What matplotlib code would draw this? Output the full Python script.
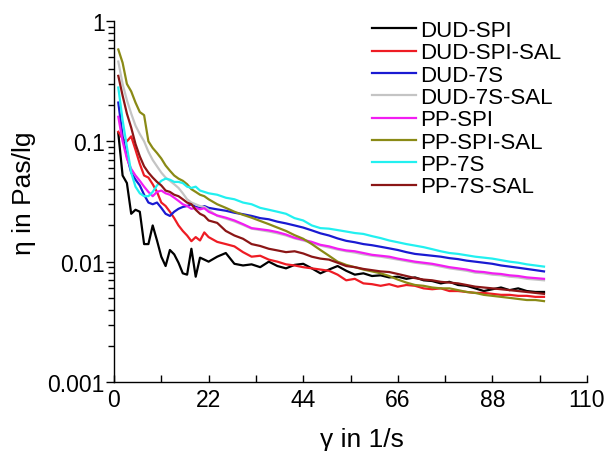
"""
Viscosity vs shear rate for DUD / PP samples
"""

import matplotlib
matplotlib.use("Agg")
import matplotlib.pyplot as plt
from matplotlib.ticker import LogLocator, NullFormatter, FixedLocator

plt.rcParams['font.family'] = ['Liberation Sans', 'DejaVu Sans']

# shear rate grid (1/s)
shear_rate = list(range(1, 23)) + list(range(24, 101, 2))

dud_spi = [0.117, 0.052, 0.045, 0.025, 0.027, 0.026, 0.014, 0.014, 0.020, 0.015,
           0.011, 0.0092, 0.0125, 0.0115, 0.0098, 0.0080, 0.0078, 0.0128, 0.0075, 0.0108,
           0.0104, 0.0100,
           0.0110, 0.0118, 0.0096, 0.0093, 0.0095, 0.0090, 0.0100, 0.0092, 0.0088, 0.0094,
           0.0096, 0.0088, 0.0080, 0.0086, 0.0092, 0.0084, 0.0078, 0.0080, 0.0076, 0.0077,
           0.0074, 0.0075, 0.0072, 0.0074, 0.0070, 0.0069, 0.0066, 0.0068, 0.0064, 0.0063,
           0.0060, 0.0057, 0.0059, 0.0061, 0.0058, 0.0060, 0.0057, 0.0056, 0.0056]

dud_spi_sal = [0.12, 0.105, 0.10, 0.11, 0.085, 0.065, 0.052, 0.050, 0.044, 0.038,
               0.031, 0.029, 0.026, 0.023, 0.020, 0.018, 0.0165, 0.0148, 0.0160, 0.0150,
               0.0175, 0.0160,
               0.0146, 0.0140, 0.0134, 0.0120, 0.0110, 0.0112, 0.0104, 0.0100, 0.0095, 0.0093,
               0.0090, 0.0088, 0.0086, 0.0084, 0.0078, 0.0070, 0.0072, 0.0066, 0.0065, 0.0063,
               0.0065, 0.0062, 0.0064, 0.0063, 0.0060, 0.0059, 0.0060, 0.0057, 0.0057, 0.0056,
               0.0055, 0.0055, 0.0054, 0.0053, 0.0053, 0.0052, 0.0052, 0.0051, 0.0051]

dud_7s = [0.21, 0.11, 0.075, 0.055, 0.048, 0.043, 0.036, 0.031, 0.030, 0.031,
          0.028, 0.025, 0.024, 0.026, 0.0275, 0.0285, 0.029, 0.030, 0.0285, 0.028,
          0.029, 0.0280,
          0.0272, 0.0265, 0.0255, 0.0248, 0.0240, 0.0230, 0.0225, 0.0215, 0.0208, 0.0200,
          0.0192, 0.0182, 0.0172, 0.0165, 0.0156, 0.0149, 0.0145, 0.0140, 0.0137, 0.0133,
          0.0129, 0.0125, 0.0120, 0.0116, 0.0114, 0.0112, 0.0110, 0.0107, 0.0105, 0.0102,
          0.0100, 0.0098, 0.0096, 0.0093, 0.0091, 0.0089, 0.0087, 0.0085, 0.0083]

dud_7s_sal = [0.46, 0.30, 0.22, 0.17, 0.135, 0.115, 0.10, 0.082, 0.070, 0.062,
              0.055, 0.050, 0.047, 0.044, 0.041, 0.037, 0.033, 0.031, 0.030, 0.029,
              0.0285, 0.027,
              0.0240, 0.0228, 0.0216, 0.0202, 0.0188, 0.0183, 0.0178, 0.0172, 0.0165, 0.0156,
              0.0150, 0.0143, 0.0136, 0.0131, 0.0126, 0.0122, 0.0119, 0.0115, 0.0112, 0.0110,
              0.0107, 0.0104, 0.0101, 0.0098, 0.0096, 0.0094, 0.0091, 0.0088, 0.0086, 0.0084,
              0.0081, 0.0080, 0.0078, 0.0077, 0.0075, 0.0074, 0.0072, 0.0071, 0.0070]

pp_spi = [0.16, 0.10, 0.072, 0.059, 0.052, 0.047, 0.042, 0.038, 0.035, 0.038,
          0.039, 0.037, 0.036, 0.034, 0.032, 0.030, 0.029, 0.0275, 0.028, 0.0272,
          0.0278, 0.026,
          0.0242, 0.0232, 0.0220, 0.0205, 0.0190, 0.0186, 0.0182, 0.0176, 0.0168, 0.0158,
          0.0152, 0.0146, 0.0138, 0.0134, 0.0128, 0.0124, 0.0122, 0.0118, 0.0114, 0.0112,
          0.0110, 0.0106, 0.0103, 0.0100, 0.0098, 0.0096, 0.0093, 0.0090, 0.0088, 0.0086,
          0.0083, 0.0082, 0.0080, 0.0079, 0.0077, 0.0076, 0.0074, 0.0073, 0.0072]

pp_spi_sal = [0.58, 0.45, 0.30, 0.26, 0.21, 0.175, 0.165, 0.10, 0.088, 0.080,
              0.072, 0.063, 0.057, 0.052, 0.049, 0.047, 0.044, 0.040, 0.038, 0.036,
              0.035, 0.033,
              0.030, 0.028, 0.026, 0.0245, 0.0232, 0.0218, 0.0205, 0.0192, 0.0180, 0.0166,
              0.0155, 0.0140, 0.0125, 0.0112, 0.0100, 0.0094, 0.0090, 0.0086, 0.0083, 0.0080,
              0.0076, 0.0071, 0.0067, 0.0064, 0.0063, 0.0061, 0.0060, 0.0060, 0.0058, 0.0056,
              0.0055, 0.0053, 0.0052, 0.0051, 0.0050, 0.0049, 0.0048, 0.0048, 0.0047]

pp_7s = [0.28, 0.15, 0.09, 0.055, 0.042, 0.037, 0.035, 0.035, 0.038, 0.043,
         0.047, 0.049, 0.048, 0.046, 0.046, 0.045, 0.042, 0.041, 0.042, 0.039,
         0.038, 0.037,
         0.036, 0.034, 0.033, 0.031, 0.030, 0.028, 0.027, 0.026, 0.025, 0.023,
         0.022, 0.020, 0.019, 0.0188, 0.0183, 0.0178, 0.0173, 0.0170, 0.0163, 0.0157,
         0.0150, 0.0145, 0.0140, 0.0136, 0.0132, 0.0127, 0.0122, 0.0118, 0.0116, 0.0113,
         0.0110, 0.0108, 0.0106, 0.0103, 0.0100, 0.0098, 0.0095, 0.0093, 0.0091]

pp_7s_sal = [0.35, 0.24, 0.17, 0.13, 0.095, 0.075, 0.062, 0.055, 0.050, 0.046,
             0.043, 0.039, 0.038, 0.036, 0.035, 0.033, 0.031, 0.030, 0.027, 0.025,
             0.024, 0.022,
             0.021, 0.018, 0.0165, 0.0155, 0.0140, 0.0135, 0.0128, 0.0124, 0.0120, 0.0122,
             0.0117, 0.0110, 0.0106, 0.0104, 0.0098, 0.0092, 0.0090, 0.0087, 0.0085, 0.0083,
             0.0082, 0.0079, 0.0076, 0.0073, 0.0071, 0.0070, 0.0068, 0.0067, 0.0066, 0.0064,
             0.0062, 0.0061, 0.0060, 0.0059, 0.0058, 0.0057, 0.0056, 0.0055, 0.0054]

labels = ['DUD-SPI', 'DUD-SPI-SAL', 'DUD-7S', 'DUD-7S-SAL',
          'PP-SPI', 'PP-SPI-SAL', 'PP-7S', 'PP-7S-SAL']
series = [dud_spi, dud_spi_sal, dud_7s, dud_7s_sal, pp_spi, pp_spi_sal, pp_7s, pp_7s_sal]
colors = ['#000000', '#ee1c24', '#1a1ad2', '#c4c4c4',
          '#f21df2', '#8a8a16', '#22f0f0', '#8b1616']

x_ticks = [0, 22, 44, 66, 88, 110]

fig = plt.figure(figsize=(6.11, 4.52), dpi=100)
ax = fig.add_axes([114 / 611, 1 - 383 / 452, 473 / 611, 361 / 452])

for y, lab, col in zip(series, labels, colors):
    ax.plot(shear_rate, y, color=col, lw=1.6, label=lab)

ax.set_yscale('log')
ax.set_ylim(0.001, 1)
ax.set_xlim(0, 110)

ax.spines['top'].set_visible(False)
ax.spines['right'].set_visible(False)
ax.spines['left'].set_linewidth(1.0)
ax.spines['bottom'].set_linewidth(1.0)

ax.xaxis.set_major_locator(FixedLocator(x_ticks))
ax.xaxis.set_minor_locator(FixedLocator([11, 33, 55, 77, 99]))
ax.set_xticklabels([str(t) for t in x_ticks])
ax.tick_params(axis='x', which='both', direction='in', length=5, width=1.0,
               labelsize=16.5, pad=4)

ax.set_yticks([0.001, 0.01, 0.1, 1])
ax.set_yticklabels(['0.001', '0.01', '0.1', '1'])
ax.yaxis.set_minor_locator(LogLocator(base=10, subs=range(2, 10)))
ax.yaxis.set_minor_formatter(NullFormatter())
ax.tick_params(axis='y', which='major', direction='out', length=6, width=1.0,
               labelsize=16.5, pad=0.5)
ax.tick_params(axis='y', which='minor', direction='out', length=4, width=1.0)

ax.set_ylabel('η in Pas/lg', fontsize=19)
ax.yaxis.set_label_coords(-0.165, 0.525)
ax.set_xlabel('γ in 1/s', fontsize=19)
ax.xaxis.set_label_coords(0.524, -0.125)

fig.legend(loc='upper left', bbox_to_anchor=(372 / 611, 1 - 21 / 452),
           frameon=False, fontsize=16, handlelength=2.0, handletextpad=0.15,
           labelspacing=0.06, borderpad=0, borderaxespad=0)

plt.savefig('out.png', dpi=100)
plt.close()
